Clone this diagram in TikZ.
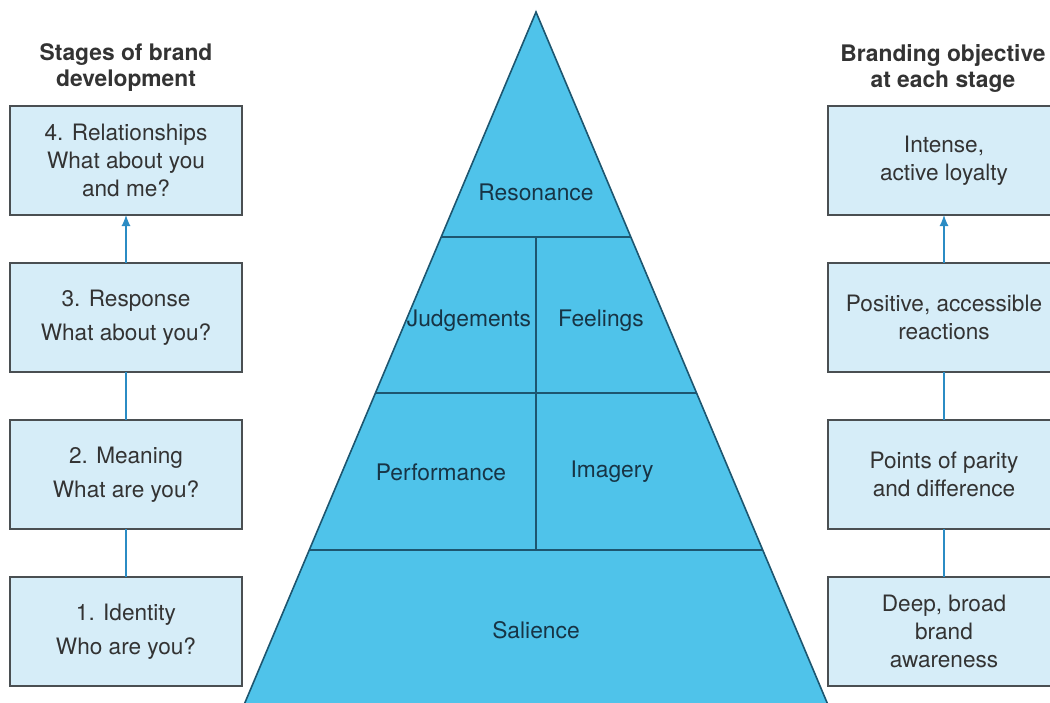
\documentclass[tikz,border=0pt]{standalone}
\usepackage{fontspec}
\setmainfont{TeX Gyre Heros}
\usetikzlibrary{arrows.meta,positioning,calc}
\definecolor{skyfill}{HTML}{4FC3EA}
\definecolor{skyline}{HTML}{1D5670}
\definecolor{paleblue}{HTML}{D6EDF8}
\definecolor{boxline}{HTML}{4A4F52}
\definecolor{linkblue}{HTML}{2B8CC4}
\definecolor{inkgrey}{HTML}{333333}
\definecolor{inknavy}{HTML}{173445}

\begin{document}
\begin{tikzpicture}[x=0.5pt,y=-0.5pt,>={Latex[length=5.5pt,width=4.5pt]},node distance=24pt]
  \tikzset{stagebox/.style={draw=boxline,thick,fill=paleblue,minimum width=116pt,minimum height=54.5pt,align=center,text=inkgrey,font=\fontsize{11.3}{14}\selectfont,inner sep=0pt,outer sep=0pt},
    heading/.style={align=center,text=inkgrey,font=\bfseries\fontsize{11.4}{13}\selectfont},
    level/.style={text=inknavy,font=\fontsize{11.4}{13}\selectfont},
    link/.style={linkblue,semithick}}
  \useasboundingbox (0,0) rectangle (1050,702);
  \clip (0,0) rectangle (1050,702);
  % pyramid and its tiers
  \coordinate (top) at (536,12);
  \coordinate (bl) at (241,712);
  \coordinate (br) at (831,712);
  \filldraw[fill=skyfill,draw=skyline,thick] (top) -- (bl) -- (br) -- cycle;
  \draw[skyline,thick] ($(top)!0.3214!(bl)$) -- ($(top)!0.3214!(br)$);
  \draw[skyline,thick] ($(top)!0.5443!(bl)$) -- ($(top)!0.5443!(br)$);
  \draw[skyline,thick] ($(top)!0.7686!(bl)$) -- ($(top)!0.7686!(br)$);
  \draw[skyline,thick] (536,237) -- (536,550);
  \node[level] (reso) at (536,192) {Resonance};
  \node[level] (judge) at (469,321) {Judgements};
  \node[level] (feel) at (601,321) {Feelings};
  \node[level] (perf) at (441,472) {Performance};
  \node[level] (imag) at (612,472) {Imagery};
  \node[level] (sali) at (536,630) {Salience};
  % stages of brand development
  \node[stagebox] (s1) at (126,631.5) {1. Identity\\[3pt]Who are you?};
  \node[stagebox,above=of s1] (s2) {2. Meaning\\[3pt]What are you?};
  \node[stagebox,above=of s2] (s3) {3. Response\\[3pt]What about you?};
  \node[stagebox,above=of s3] (s4) {4. Relationships\\What about you\\and me?};
  \node[heading] (lefthead) at (126,68) {Stages of brand\\development};
  \draw[link] (s1) -- (s2);
  \draw[link] (s2) -- (s3);
  \draw[link,->] (s3) -- (s4);
  % branding objectives
  \node[stagebox] (o1) at (944,631.5) {Deep, broad\\brand\\awareness};
  \node[stagebox,above=of o1] (o2) {Points of parity\\and difference};
  \node[stagebox,above=of o2] (o3) {Positive, accessible\\reactions};
  \node[stagebox,above=of o3] (o4) {Intense,\\active loyalty};
  \node[heading] (righthead) at (943,68) {Branding objective\\at each stage};
  \draw[link] (o1) -- (o2);
  \draw[link] (o2) -- (o3);
  \draw[link,->] (o3) -- (o4);
\end{tikzpicture}
\end{document}
